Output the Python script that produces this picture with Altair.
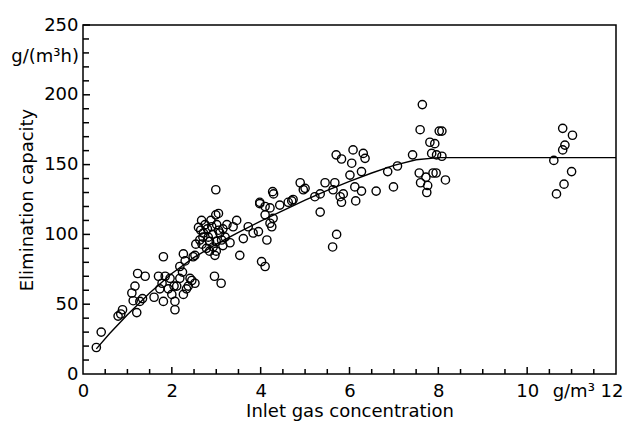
import altair as alt
import pandas as pd

# Measured points (inlet gas concentration g/m3, elimination capacity g/(m3 h))
x_vals = [0.30, 0.41, 0.79, 0.85, 0.89, 1.10, 1.13, 1.17, 1.21, 1.23, 1.28, 1.34, 1.40,
          1.60, 1.70, 1.73, 1.78, 1.81, 1.81, 1.85, 1.92, 1.96, 2.00, 2.05, 2.07, 2.07,
          2.11, 2.18, 2.18, 2.24, 2.26, 2.30, 2.26, 2.33, 2.37, 2.41, 2.45, 2.52, 2.48,
          2.52, 2.54, 2.63, 2.67, 2.71, 2.75, 2.78, 2.82, 2.90, 2.93, 2.97, 2.99, 3.05,
          3.01, 3.08, 3.12, 2.96, 3.11, 3.24, 3.31, 3.38, 3.46, 3.53, 3.61, 3.72, 3.83,
          3.95, 3.98, 4.02, 4.10, 4.14, 4.10, 4.21, 4.25, 4.21, 4.28, 2.99, 3.98, 4.10,
          4.27, 4.29, 4.43, 4.62, 4.73, 4.70, 4.89, 4.96, 5.00, 5.22, 5.34, 5.34, 5.45,
          5.63, 5.67, 5.70, 5.82, 5.79, 5.86, 5.82, 6.01, 6.05, 6.08, 6.12, 6.14, 6.27,
          6.27, 6.31, 6.35, 6.60, 6.86, 6.99, 7.08, 5.62, 5.71,
          2.65, 2.70, 2.80, 2.85, 2.88, 2.92, 3.00, 3.05, 3.15, 3.20, 3.00, 2.85, 3.15,
          2.60, 2.68,
          7.42, 7.57, 7.59, 7.64, 7.60, 7.72, 7.74, 7.76, 7.81, 7.85, 7.88, 7.92, 7.96,
          8.02, 8.08, 8.08, 8.16, 7.95,
          10.80, 11.02, 10.85, 10.80, 10.60, 11.00, 10.83, 10.66]
y_vals = [19, 30, 41.5, 43, 46, 58, 52.5, 63, 44, 72, 52, 54, 70,
          55, 70, 61, 65, 84, 52, 70, 61, 68.5, 57, 63, 52, 46,
          63, 68.5, 77, 73, 86, 81, 57, 61, 63, 68.5, 67, 65, 84,
          85, 93, 96, 110, 101, 107, 90, 98, 105.5, 91, 85, 114, 115,
          107, 101, 96, 70, 65, 107, 94, 105.5, 110, 85, 97, 105.5, 101,
          102, 122, 80.5, 77, 96, 114, 119, 105.5, 108, 111.5, 132, 123, 120,
          130.6, 129, 121, 123, 125, 124, 137, 132, 133, 127, 129, 116, 137,
          132, 137, 157, 154, 127, 129, 123, 142.5, 151, 160.5, 134, 124, 131,
          145, 158, 154.5, 131, 145, 134, 149, 91, 100,
          103, 98, 104, 95, 110, 100, 95, 103, 104, 98, 88, 88, 92,
          105, 93,
          157, 144, 175, 193, 137, 141, 130, 135, 166, 158, 144, 165, 157,
          174, 174, 156, 139, 144,
          176, 171, 164, 160.5, 153, 145, 136, 129]

# Fitted curve
curve_x = [0.3, 0.6, 1.0, 1.5, 2.0, 2.5, 3.0, 3.5, 4.0, 4.5, 5.0, 5.5, 6.0, 6.5, 7.0, 7.5, 8.0, 12.0]
curve_y = [18, 29, 42.5, 58, 72, 83.5, 93, 101.5, 109.5, 117, 124.5, 131.5, 138, 144, 149.5, 153.5, 155, 155]

# Axis ticks
x_labels = [0, 2, 4, 6, 8, 10, 12]
x_minor = [0.5 * i for i in range(1, 24)]
y_labels = [0, 50, 100, 150, 200, 250]
y_minor = [10 * i for i in range(1, 25)]

W, H = 533, 349
FONT = "DejaVu Sans"

pts = pd.DataFrame({"x": x_vals, "y": y_vals})
curve = pd.DataFrame({"x": curve_x, "y": curve_y})

xscale = alt.Scale(domain=[0, 12], nice=False, zero=False)
yscale = alt.Scale(domain=[0, 250], nice=False, zero=False)

xaxis = alt.Axis(
    values=x_labels, ticks=False, domain=False, grid=False,
    labelExpr="datum.value == 12 ? 'g/m³ 12' : datum.label",
    labelAlign={"condition": {"test": "datum.value == 12", "value": "right"}, "value": "center"},
    labelOffset={"condition": {"test": "datum.value == 12", "value": 7}, "value": 0},
    labelFlush=False, labelOverlap=False, labelBound=False,
    labelPadding=8, labelFontSize=18, labelFont=FONT, labelColor="black",
    title="Inlet gas concentration", titleFontSize=18, titleFont=FONT,
    titleFontWeight="normal", titleColor="black", titlePadding=2,
)
yaxis = alt.Axis(
    values=y_labels, ticks=False, domain=False, grid=False,
    labelFlush=False, labelOverlap=False, labelBound=False,
    labelPadding=5, labelFontSize=18, labelFont=FONT, labelColor="black",
    title="Elimination capacity", titleFontSize=18, titleFont=FONT,
    titleFontWeight="normal", titleColor="black", titlePadding=7,
)

points = alt.Chart(pts).mark_point(
    shape="circle", filled=False, color="black", size=68, strokeWidth=1.4, opacity=1
).encode(
    x=alt.X("x:Q", scale=xscale, axis=xaxis),
    y=alt.Y("y:Q", scale=yscale, axis=yaxis),
)

line = alt.Chart(curve).mark_line(color="black", strokeWidth=1.4).encode(
    x=alt.X("x:Q", scale=xscale),
    y=alt.Y("y:Q", scale=yscale),
)

yt_major = alt.Chart(pd.DataFrame({"v": y_labels[1:]})).mark_rule(color="black", strokeWidth=1.5).encode(
    y=alt.Y("v:Q", scale=yscale), x=alt.value(0), x2=alt.value(7))
yt_minor = alt.Chart(pd.DataFrame({"v": [v for v in y_minor if v % 50]})).mark_rule(color="black", strokeWidth=1.5).encode(
    y=alt.Y("v:Q", scale=yscale), x=alt.value(0), x2=alt.value(6))
xt_major = alt.Chart(pd.DataFrame({"v": x_labels[1:-1]})).mark_rule(color="black", strokeWidth=1.5).encode(
    x=alt.X("v:Q", scale=xscale), y=alt.value(H), y2=alt.value(H - 7))
xt_minor = alt.Chart(pd.DataFrame({"v": [v for v in x_minor if v % 2]})).mark_rule(color="black", strokeWidth=1.5).encode(
    x=alt.X("v:Q", scale=xscale), y=alt.value(H), y2=alt.value(H - 5))

unit = alt.Chart(pd.DataFrame({"t": ["g/(m³h)"]})).mark_text(
    align="right", baseline="middle", fontSize=18, font=FONT, color="black"
).encode(text="t:N", x=alt.value(-4), y=alt.datum(227, scale=yscale))

chart = alt.layer(yt_major, yt_minor, xt_major, xt_minor, line, points, unit).properties(
    width=W, height=H,
    autosize=alt.AutoSizeParams(type="none"),
    padding={"left": 83, "top": 25, "right": 12, "bottom": 54},
    background="white",
).configure_view(stroke="black", strokeWidth=1.5)

chart.save("out.html", embed_options={"renderer": "svg", "actions": False})
